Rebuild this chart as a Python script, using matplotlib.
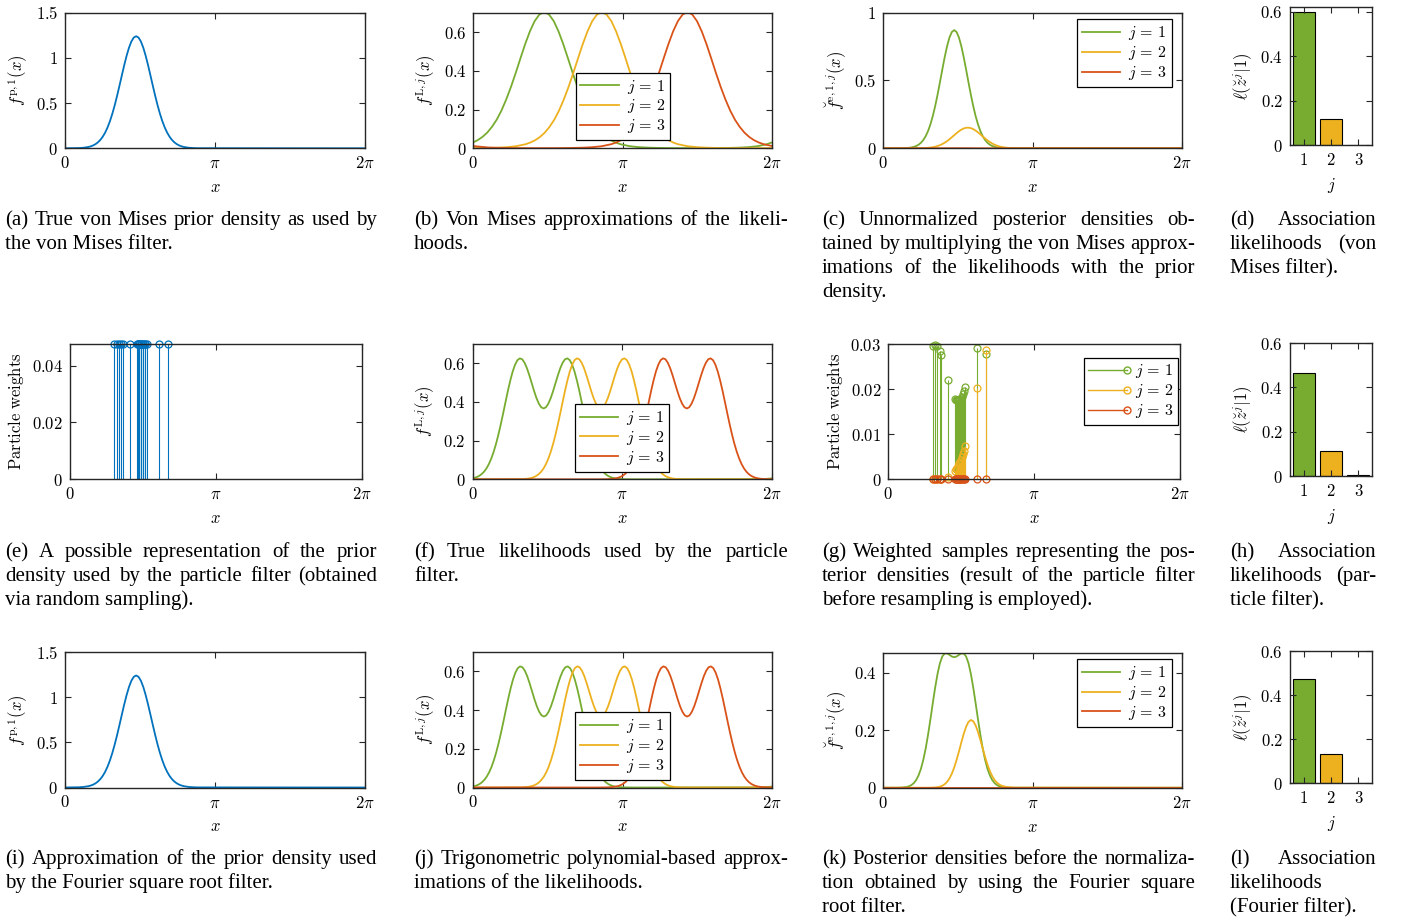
import numpy as np
import matplotlib
matplotlib.use("Agg")
import matplotlib.pyplot as plt
from matplotlib.lines import Line2D
from matplotlib.legend_handler import HandlerLine2D

plt.rcParams["mathtext.fontset"] = "cm"
plt.rcParams["font.family"] = ["DejaVu Serif"]

W, H = 1403, 921
blue = "#0072BD"
green = "#77AC30"
yellow = "#EDB120"
red = "#D95319"
colors = [green, yellow, red]
ink = "0.15"

# sample positions around the prior (radians)
x_near = [0.00, 0.29, 0.39, 0.49, 0.54, 0.59, 0.64, 0.69, 0.74, 0.79, 0.84, 0.89,
          0.94, 0.99, 1.04, 1.09, 1.14, 1.19, 1.24, 1.29, 1.34, 1.39, 1.44, 1.49,
          1.54, 1.59, 1.64, 1.69, 1.74, 1.79, 1.84, 1.89, 1.94, 1.99, 2.04, 2.09,
          2.14, 2.19, 2.24, 2.29, 2.34, 2.39, 2.44, 2.49, 2.59, 2.69, 2.79, 6.283]

# (a)/(i) prior density
prior = [0.0002, 0.0026, 0.0063, 0.0146, 0.0218, 0.0321, 0.0464, 0.0662, 0.0929, 0.1279,
         0.1729, 0.2294, 0.2983, 0.3800, 0.4740, 0.5784, 0.6903, 0.8055, 0.9183, 1.0228,
         1.1125, 1.1815, 1.2251, 1.2400, 1.2251, 1.1815, 1.1125, 1.0228, 0.9183, 0.8055,
         0.6903, 0.5784, 0.4740, 0.3800, 0.2983, 0.2294, 0.1729, 0.1279, 0.0929, 0.0662,
         0.0464, 0.0321, 0.0218, 0.0146, 0.0063, 0.0026, 0.0011, 0.0]

# (b) von Mises likelihood approximations
vm_x1 = [0.00, 0.09, 0.19, 0.29, 0.39, 0.49, 0.59, 0.69, 0.79, 0.89, 0.99, 1.09, 1.19,
         1.29, 1.39, 1.49, 1.59, 1.69, 1.79, 1.89, 1.99, 2.09, 2.19, 2.29, 2.39, 2.49,
         2.59, 2.69, 2.79, 2.89, 2.99, 3.09, 3.29, 3.49, 3.69, 3.89, 4.09, 4.29, 4.63,
         4.97, 5.17, 5.37, 5.57, 5.77, 5.97, 6.17, 6.283]
vm_lik1 = [0.031, 0.0418, 0.0583, 0.0804, 0.110, 0.147, 0.194, 0.251, 0.316, 0.388,
           0.464, 0.538, 0.604, 0.657, 0.691, 0.703, 0.691, 0.657, 0.604, 0.538,
           0.464, 0.388, 0.316, 0.251, 0.194, 0.147, 0.110, 0.0804, 0.0583, 0.0418,
           0.0299, 0.0212, 0.0108, 0.0057, 0.0032, 0.0019, 0.0013, 0.00095, 0.0008, 0.00095,
           0.0013, 0.0019, 0.0032, 0.0057, 0.0108, 0.0212, 0.031]
vm_x2 = [0.00, 0.30, 0.50, 0.70, 0.90, 1.10, 1.20, 1.30, 1.40, 1.50, 1.60, 1.70, 1.80,
         1.90, 2.00, 2.10, 2.20, 2.30, 2.40, 2.50, 2.60, 2.70, 2.80, 2.90, 3.00, 3.10,
         3.20, 3.30, 3.40, 3.50, 3.60, 3.70, 3.80, 3.90, 4.00, 4.10, 4.20, 4.30, 4.50,
         4.70, 4.90, 5.10, 5.30, 5.50, 5.84, 6.283]
vm_lik2 = [0.0011, 0.0019, 0.0032, 0.0057, 0.0108, 0.0212, 0.0299, 0.0418, 0.0583, 0.0804,
           0.110, 0.147, 0.194, 0.251, 0.316, 0.388, 0.464, 0.538, 0.604, 0.657,
           0.691, 0.703, 0.691, 0.657, 0.604, 0.538, 0.464, 0.388, 0.316, 0.251,
           0.194, 0.147, 0.110, 0.0804, 0.0583, 0.0418, 0.0299, 0.0212, 0.0108, 0.0057,
           0.0032, 0.0019, 0.0013, 0.00095, 0.0008, 0.0011]
vm_x3 = [0.00, 0.32, 0.52, 0.72, 0.92, 1.36, 1.70, 1.90, 2.10, 2.30, 2.50, 2.70, 2.90,
         3.00, 3.10, 3.20, 3.30, 3.40, 3.50, 3.60, 3.70, 3.80, 3.90, 4.00, 4.10, 4.20,
         4.30, 4.40, 4.50, 4.60, 4.70, 4.80, 4.90, 5.00, 5.10, 5.20, 5.30, 5.40, 5.50,
         5.60, 5.70, 5.80, 5.90, 6.00, 6.10, 6.283]
vm_lik3 = [0.0115, 0.0042, 0.0024, 0.0015, 0.0011, 0.0008, 0.00095, 0.0013, 0.0019, 0.0032,
           0.0057, 0.0108, 0.0212, 0.0299, 0.0418, 0.0583, 0.0804, 0.110, 0.147, 0.194,
           0.251, 0.316, 0.388, 0.464, 0.538, 0.604, 0.657, 0.691, 0.703, 0.691,
           0.657, 0.604, 0.538, 0.464, 0.388, 0.316, 0.251, 0.194, 0.147, 0.110,
           0.0804, 0.0583, 0.0418, 0.0299, 0.0212, 0.0115]

# (c) unnormalized posteriors, von Mises filter (on x_near)
vm_post1 = [0.0, 0.0002, 0.0007, 0.0022, 0.0037, 0.0062, 0.0103, 0.0166, 0.0262, 0.0404,
            0.0608, 0.0891, 0.1270, 0.1762, 0.2376, 0.3110, 0.3949, 0.4865, 0.5808, 0.6719,
            0.7528, 0.8166, 0.8576, 0.8717, 0.8576, 0.8166, 0.7528, 0.6719, 0.5808, 0.4865,
            0.3949, 0.3110, 0.2376, 0.1762, 0.1270, 0.0891, 0.0608, 0.0404, 0.0262, 0.0166,
            0.0103, 0.0062, 0.0037, 0.0022, 0.0007, 0.0002, 0.0001, 0.0]
vm_post2 = [0.0, 0.0, 0.0, 0.0, 0.0001, 0.0001, 0.0002, 0.0004, 0.0006, 0.0010,
            0.0015, 0.0024, 0.0037, 0.0056, 0.0082, 0.0119, 0.0168, 0.0232, 0.0314, 0.0414,
            0.0532, 0.0666, 0.0813, 0.0966, 0.1117, 0.1257, 0.1376, 0.1464, 0.1514, 0.1522,
            0.1488, 0.1415, 0.1307, 0.1175, 0.1027, 0.0873, 0.0723, 0.0583, 0.0459, 0.0351,
            0.0262, 0.0192, 0.0137, 0.0095, 0.0043, 0.0018, 0.0008, 0.0]
vm_post3 = [0.0, 0.0, 0.0, 0.0, 0.0, 0.0, 0.0, 0.0001, 0.0001, 0.0001,
            0.0001, 0.0002, 0.0002, 0.0003, 0.0004, 0.0005, 0.0006, 0.0006, 0.0007, 0.0008,
            0.0009, 0.0009, 0.001, 0.001, 0.001, 0.001, 0.0009, 0.0009, 0.0008, 0.0007,
            0.0006, 0.0005, 0.0004, 0.0003, 0.0002, 0.0002, 0.0001, 0.0001, 0.0001, 0.0,
            0.0, 0.0, 0.0, 0.0, 0.0, 0.0, 0.0, 0.0]

# (f)/(j) true (bimodal) likelihoods
lik_x1 = [0.00, 0.04, 0.09, 0.14, 0.19, 0.24, 0.29, 0.34, 0.39, 0.44, 0.49, 0.54, 0.59,
          0.64, 0.69, 0.74, 0.79, 0.84, 0.89, 0.94, 0.99, 1.04, 1.09, 1.14, 1.19, 1.24,
          1.29, 1.34, 1.39, 1.44, 1.49, 1.54, 1.59, 1.64, 1.69, 1.74, 1.79, 1.84, 1.89,
          1.94, 1.99, 2.04, 2.09, 2.14, 2.19, 2.24, 2.29, 2.34, 2.39, 2.44, 2.49, 2.54,
          2.59, 2.64, 2.69, 2.74, 2.79, 2.84, 2.89, 2.94, 2.99, 3.04, 3.09, 3.19, 3.29,
          3.39, 6.10, 6.283]
lik1 = [0.0047, 0.0075, 0.0119, 0.0182, 0.0273, 0.0398, 0.0567, 0.0789, 0.1071, 0.1418,
        0.1832, 0.2310, 0.2844, 0.3414, 0.4004, 0.4582, 0.5113, 0.5574, 0.5929, 0.6164,
        0.6257, 0.6210, 0.6031, 0.5746, 0.5381, 0.4977, 0.4569, 0.4203, 0.3915, 0.3728,
        0.3664, 0.3728, 0.3915, 0.4203, 0.4569, 0.4977, 0.5381, 0.5746, 0.6031, 0.6210,
        0.6257, 0.6164, 0.5929, 0.5574, 0.5113, 0.4582, 0.4004, 0.3414, 0.2844, 0.2310,
        0.1832, 0.1418, 0.1071, 0.0789, 0.0567, 0.0398, 0.0273, 0.0182, 0.0119, 0.0075,
        0.0047, 0.0029, 0.0017, 0.0005, 0.0002, 0.0, 0.0008, 0.0047]
lik_x2 = [0.00, 0.99, 1.09, 1.14, 1.19, 1.24, 1.29, 1.34, 1.39, 1.44, 1.49, 1.54, 1.59,
          1.64, 1.69, 1.74, 1.79, 1.84, 1.89, 1.94, 1.99, 2.04, 2.09, 2.14, 2.19, 2.24,
          2.29, 2.34, 2.39, 2.44, 2.49, 2.54, 2.59, 2.64, 2.69, 2.74, 2.79, 2.84, 2.89,
          2.94, 2.99, 3.04, 3.09, 3.14, 3.19, 3.24, 3.29, 3.34, 3.39, 3.44, 3.49, 3.54,
          3.59, 3.64, 3.69, 3.74, 3.79, 3.84, 3.89, 3.94, 3.99, 4.04, 4.09, 4.14, 4.19,
          4.24, 4.29, 4.39, 4.49, 4.59, 6.283]
lik2 = [0.0, 0.0005, 0.0017, 0.0029,
        0.0047, 0.0075, 0.0119, 0.0182, 0.0273, 0.0398, 0.0567, 0.0789, 0.1071, 0.1418,
        0.1832, 0.2310, 0.2844, 0.3414, 0.4004, 0.4582, 0.5113, 0.5574, 0.5929, 0.6164,
        0.6257, 0.6210, 0.6031, 0.5746, 0.5381, 0.4977, 0.4569, 0.4203, 0.3915, 0.3728,
        0.3664, 0.3728, 0.3915, 0.4203, 0.4569, 0.4977, 0.5381, 0.5746, 0.6031, 0.6210,
        0.6257, 0.6164, 0.5929, 0.5574, 0.5113, 0.4582, 0.4004, 0.3414, 0.2844, 0.2310,
        0.1832, 0.1418, 0.1071, 0.0789, 0.0567, 0.0398, 0.0273, 0.0182, 0.0119, 0.0075,
        0.0047, 0.0029, 0.0017, 0.0005, 0.0002, 0.0, 0.0]
lik_x3 = [0.00, 2.60, 2.80, 2.90, 2.95, 3.00, 3.05, 3.10, 3.15, 3.20, 3.25, 3.30, 3.35,
          3.40, 3.45, 3.50, 3.55, 3.60, 3.65, 3.70, 3.75, 3.80, 3.85, 3.90, 3.95, 4.00,
          4.05, 4.10, 4.15, 4.20, 4.25, 4.30, 4.35, 4.40, 4.45, 4.50, 4.55, 4.60, 4.65,
          4.70, 4.75, 4.80, 4.85, 4.90, 4.95, 5.00, 5.05, 5.10, 5.15, 5.20, 5.25, 5.30,
          5.35, 5.40, 5.45, 5.50, 5.55, 5.60, 5.65, 5.70, 5.75, 5.80, 5.85, 5.90, 5.95,
          6.00, 6.05, 6.10, 6.20, 6.283]
lik3 = [0.0, 0.0, 0.0005, 0.0017, 0.0029,
        0.0047, 0.0075, 0.0119, 0.0182, 0.0273, 0.0398, 0.0567, 0.0789, 0.1071, 0.1418,
        0.1832, 0.2310, 0.2844, 0.3414, 0.4004, 0.4582, 0.5113, 0.5574, 0.5929, 0.6164,
        0.6257, 0.6210, 0.6031, 0.5746, 0.5381, 0.4977, 0.4569, 0.4203, 0.3915, 0.3728,
        0.3664, 0.3728, 0.3915, 0.4203, 0.4569, 0.4977, 0.5381, 0.5746, 0.6031, 0.6210,
        0.6257, 0.6164, 0.5929, 0.5574, 0.5113, 0.4582, 0.4004, 0.3414, 0.2844, 0.2310,
        0.1832, 0.1418, 0.1071, 0.0789, 0.0567, 0.0398, 0.0273, 0.0182, 0.0119, 0.0075,
        0.0047, 0.0029, 0.0017, 0.0005, 0.0002]

# (k) posteriors, Fourier filter (on x_near)
fo_post1 = [0.0, 0.0001, 0.0007, 0.0027, 0.0050, 0.0091, 0.0158, 0.0265, 0.0426, 0.0654,
            0.0964, 0.1360, 0.1839, 0.2378, 0.2944, 0.3488, 0.3966, 0.4334, 0.4570, 0.4673,
            0.4676, 0.4626, 0.4567, 0.4543, 0.4567, 0.4626, 0.4676, 0.4673, 0.4570, 0.4334,
            0.3966, 0.3488, 0.2944, 0.2378, 0.1839, 0.1360, 0.0964, 0.0654, 0.0426, 0.0265,
            0.0158, 0.0091, 0.0050, 0.0027, 0.0007, 0.0001, 0.0, 0.0]
fo_post2 = [0.0, 0.0, 0.0, 0.0, 0.0, 0.0, 0.0, 0.0, 0.0, 0.0,
            0.0, 0.0, 0.0, 0.0002, 0.0005, 0.0010, 0.0020, 0.0038, 0.0069, 0.0122,
            0.0202, 0.0323, 0.0488, 0.0703, 0.0967, 0.1265, 0.1578, 0.1874, 0.2121, 0.2291,
            0.2357, 0.2315, 0.2170, 0.1941, 0.1660, 0.1360, 0.1063, 0.0800, 0.0575, 0.0399,
            0.0266, 0.0173, 0.0108, 0.0066, 0.0025, 0.0010, 0.0004, 0.0]
fo_x3 = [0.0, 6.283]
fo_post3 = [0.0, 0.0]

# (e)/(g) particles
particles = [0.958, 1.008, 1.051, 1.103, 1.137, 1.282, 1.439, 1.460, 1.470, 1.482,
             1.497, 1.519, 1.530, 1.540, 1.562, 1.583, 1.605, 1.626, 1.654, 1.913, 2.107]
w_prior = [0.0476, 0.0476, 0.0476, 0.0476, 0.0476, 0.0476, 0.0476, 0.0476, 0.0476, 0.0476,
           0.0476, 0.0476, 0.0476, 0.0476, 0.0476, 0.0476, 0.0476, 0.0476, 0.0476, 0.0476, 0.0476]
w_post1 = [0.0296, 0.0298, 0.0295, 0.0284, 0.0275, 0.0221, 0.0178, 0.0176, 0.0175, 0.0175,
           0.0175, 0.0175, 0.0176, 0.0177, 0.0180, 0.0183, 0.0189, 0.0195, 0.0204, 0.0291, 0.0277]
w_post2 = [0.0000, 0.0000, 0.0001, 0.0001, 0.0001, 0.0005, 0.0019, 0.0022, 0.0023, 0.0026,
           0.0029, 0.0033, 0.0036, 0.0038, 0.0043, 0.0049, 0.0055, 0.0062, 0.0073, 0.0203, 0.0286]
w_post3 = [0, 0, 0, 0, 0, 0, 0, 0, 0, 0,
           0, 0, 0, 0, 0, 0, 0, 0, 0, 0, 0]

# association likelihoods
bar_j = [1, 2, 3]
assoc_vm = [0.597, 0.115, 0.002]
assoc_pf = [0.465, 0.115, 0.003]
assoc_fo = [0.473, 0.132, 0.002]

legend_labels = [r"$j\,=\,1$", r"$j\,=\,2$", r"$j\,=\,3$"]

captions = {
    "a": ["(a) True von Mises prior density as used by", "the von Mises filter."],
    "b": ["(b) Von Mises approximations of the likeli-", "hoods."],
    "c": ["(c) Unnormalized posterior densities ob-",
          "tained by multiplying the von Mises approx-",
          "imations of the likelihoods with the prior", "density."],
    "d": ["(d) Association", "likelihoods (von", "Mises filter)."],
    "e": ["(e) A possible representation of the prior",
          "density used by the particle filter (obtained", "via random sampling)."],
    "f": ["(f) True likelihoods used by the particle", "filter."],
    "g": ["(g) Weighted samples representing the pos-",
          "terior densities (result of the particle filter",
          "before resampling is employed)."],
    "h": ["(h) Association", "likelihoods (par-", "ticle filter)."],
    "i": ["(i) Approximation of the prior density used",
          "by the Fourier square root filter."],
    "j": ["(j) Trigonometric polynomial-based approx-", "imations of the likelihoods."],
    "k": ["(k) Posterior densities before the normaliza-",
          "tion obtained by using the Fourier square", "root filter."],
    "l": ["(l) Association", "likelihoods", "(Fourier filter)."],
}

fig = plt.figure(figsize=(W / 100, H / 100), dpi=100)


def rect(l, t, r, b):
    return [l / W, 1 - b / H, (r - l) / W, (b - t) / H]


def style(ax, ylim, yticks, ylabels, ylab):
    ax.set_ylim(*ylim)
    ax.set_yticks(yticks)
    ax.set_yticklabels(ylabels)
    ax.tick_params(direction="in", top=True, right=True, length=4, width=0.8,
                   labelsize=12, colors=ink, labelcolor="k", pad=5)
    for s in ax.spines.values():
        s.set_linewidth(1.0)
        s.set_color(ink)
    ax.set_ylabel(ylab, fontsize=12, labelpad=4)


def circ_axis(ax):
    ax.set_xlim(0, 2 * np.pi)
    ax.set_xticks([0, np.pi, 2 * np.pi])
    ax.set_xticklabels(["$0$", r"$\pi$", r"$2\pi$"])
    ax.set_xlabel("$x$", fontsize=12, labelpad=5)


def bar_axis(ax, vals, top):
    ax.bar(bar_j, vals, width=0.8, color=colors, edgecolor="k", linewidth=0.8)
    ax.set_xlim(0.5, 3.5)
    ax.set_xticks(bar_j)
    ax.set_xticklabels(["$1$", "$2$", "$3$"])
    ax.set_xlabel("$j$", fontsize=12, labelpad=5)
    style(ax, (0, top), [0, 0.2, 0.4, 0.6], ["$0$", "$0.2$", "$0.4$", "$0.6$"],
          r"$\ell(\breve{z}^j|1)$")


def legend(ax, handles, loc, anchor, handler_map=None):
    lg = ax.legend(handles, legend_labels, loc=loc, bbox_to_anchor=anchor, fontsize=11.5,
                   frameon=True, fancybox=False, framealpha=1, edgecolor="k",
                   handlelength=2.4, handletextpad=0.5, labelspacing=0.12,
                   borderpad=0.3, borderaxespad=0, handler_map=handler_map)
    lg.get_frame().set_linewidth(0.9)


class EndMarker(HandlerLine2D):
    def create_artists(self, legend, orig_handle, xdescent, ydescent, width, height,
                       fontsize, trans):
        y = height / 2 - ydescent
        c = orig_handle.get_color()
        ln = Line2D([-xdescent, width - xdescent], [y, y], color=c, lw=1.0)
        mk = Line2D([width - xdescent], [y], marker="o", ms=5, mfc="none", mec=c, ls="none")
        ln.set_transform(trans)
        mk.set_transform(trans)
        return [ln, mk]


def stems(ax, xs, ws, color):
    ml, sl, bl = ax.stem(xs, ws, basefmt=" ")
    sl.set_color(color)
    sl.set_linewidth(0.8)
    ml.set_marker("o")
    ml.set_markersize(5)
    ml.set_markerfacecolor("none")
    ml.set_markeredgecolor(color)
    ml.set_markeredgewidth(0.9)
    ml.set_clip_on(False)


lw = 1.3
f_ticks = ([0, 0.2, 0.4, 0.6], ["$0$", "$0.2$", "$0.4$", "$0.6$"])

# row 1
ax = fig.add_axes(rect(65, 12.7, 365, 148.3))
ax.plot(x_near, prior, color=blue, lw=lw)
circ_axis(ax)
style(ax, (0, 1.5), [0, 0.5, 1, 1.5], ["$0$", "$0.5$", "$1$", "$1.5$"], r"$f^{\mathrm{p},1}(x)$")

ax = fig.add_axes(rect(473.3, 12.7, 772.3, 148.3))
hs = [ax.plot(xs, s, color=c, lw=lw)[0]
      for xs, s, c in zip([vm_x1, vm_x2, vm_x3], [vm_lik1, vm_lik2, vm_lik3], colors)]
circ_axis(ax)
style(ax, (0, 0.7), *f_ticks, r"$f^{\mathrm{L},j}(x)$")
legend(ax, hs, "lower center", (0.5, 0.06))

ax = fig.add_axes(rect(883.3, 12.7, 1182.3, 148.3))
hs = [ax.plot(x_near, s, color=c, lw=lw)[0] for s, c in zip([vm_post1, vm_post2, vm_post3], colors)]
circ_axis(ax)
style(ax, (0, 1), [0, 0.5, 1], ["$0$", "$0.5$", "$1$"], r"$\breve{f}^{\mathrm{e},1,j}(x)$")
legend(ax, hs, "upper right", (0.965, 0.95))

ax = fig.add_axes(rect(1290, 7.3, 1372, 145))
bar_axis(ax, assoc_vm, 0.62)

# row 2
ax = fig.add_axes(rect(70, 344, 361.7, 479.3))
stems(ax, particles, w_prior, blue)
circ_axis(ax)
style(ax, (0, 0.0476), [0, 0.02, 0.04], ["$0$", "$0.02$", "$0.04$"],
      r"$\mathrm{Particle\ weights}$")

lik_xs = [lik_x1, lik_x2, lik_x3]
liks = [lik1, lik2, lik3]

ax = fig.add_axes(rect(472.7, 344, 771.7, 479.3))
hs = [ax.plot(xs, s, color=c, lw=lw)[0] for xs, s, c in zip(lik_xs, liks, colors)]
circ_axis(ax)
style(ax, (0, 0.7), *f_ticks, r"$f^{\mathrm{L},j}(x)$")
legend(ax, hs, "lower center", (0.5, 0.056))

ax = fig.add_axes(rect(888.3, 344, 1180, 479.3))
for ws, c in zip([w_post1, w_post2, w_post3], colors):
    stems(ax, particles, ws, c)
circ_axis(ax)
style(ax, (0, 0.03), [0, 0.01, 0.02, 0.03], ["$0$", "$0.01$", "$0.02$", "$0.03$"],
      r"$\mathrm{Particle\ weights}$")
hs = [Line2D([], [], color=c) for c in colors]
legend(ax, hs, "upper right", (0.994, 0.90), handler_map={Line2D: EndMarker()})

ax = fig.add_axes(rect(1290, 343, 1372, 476))
bar_axis(ax, assoc_pf, 0.6)

# row 3
ax = fig.add_axes(rect(65, 652, 365, 787.5))
ax.plot(x_near, prior, color=blue, lw=lw)
circ_axis(ax)
style(ax, (0, 1.5), [0, 0.5, 1, 1.5], ["$0$", "$0.5$", "$1$", "$1.5$"], r"$f^{\mathrm{p},1}(x)$")

ax = fig.add_axes(rect(473, 652, 772, 787.5))
hs = [ax.plot(xs, s, color=c, lw=lw)[0] for xs, s, c in zip(lik_xs, liks, colors)]
circ_axis(ax)
style(ax, (0, 0.7), *f_ticks, r"$f^{\mathrm{L},j}(x)$")
legend(ax, hs, "lower center", (0.5, 0.056))

ax = fig.add_axes(rect(883.3, 652.7, 1182.3, 787.7))
hs = [ax.plot(xs, s, color=c, lw=lw)[0]
      for xs, s, c in zip([x_near, x_near, fo_x3], [fo_post1, fo_post2, fo_post3], colors)]
circ_axis(ax)
style(ax, (0, 0.47), [0, 0.2, 0.4], ["$0$", "$0.2$", "$0.4$"], r"$\breve{f}^{\mathrm{e},1,j}(x)$")
legend(ax, hs, "upper right", (0.965, 0.95))

ax = fig.add_axes(rect(1290, 651, 1372, 783))
bar_axis(ax, assoc_fo, 0.6)

# captions, justified like the paper
renderer = fig.canvas.get_renderer()
cap_font = dict(fontsize=15.0, family="Liberation Serif", va="baseline", color="k")


def caption(lines, x0, x1, y0):
    for i, line in enumerate(lines):
        y = 1 - (y0 + 24 * i) / H
        words = line.split()
        if i == len(lines) - 1 or len(words) == 1:
            fig.text(x0 / W, y, line, **cap_font)
            continue
        texts = [fig.text(0, y, w, **cap_font) for w in words]
        widths = [t.get_window_extent(renderer).width for t in texts]
        gap = (x1 - x0 - sum(widths)) / (len(words) - 1)
        x = x0
        for t, w in zip(texts, widths):
            t.set_x(x / W)
            x += w + gap


cols = [(5, 377), (414, 788), (822, 1195), (1230, 1376)]
rows = [225, 557, 864]
for r, keys in enumerate(["abcd", "efgh", "ijkl"]):
    for c, k in enumerate(keys):
        caption(captions[k], cols[c][0], cols[c][1], rows[r])

fig.savefig("out.png", dpi=100)
